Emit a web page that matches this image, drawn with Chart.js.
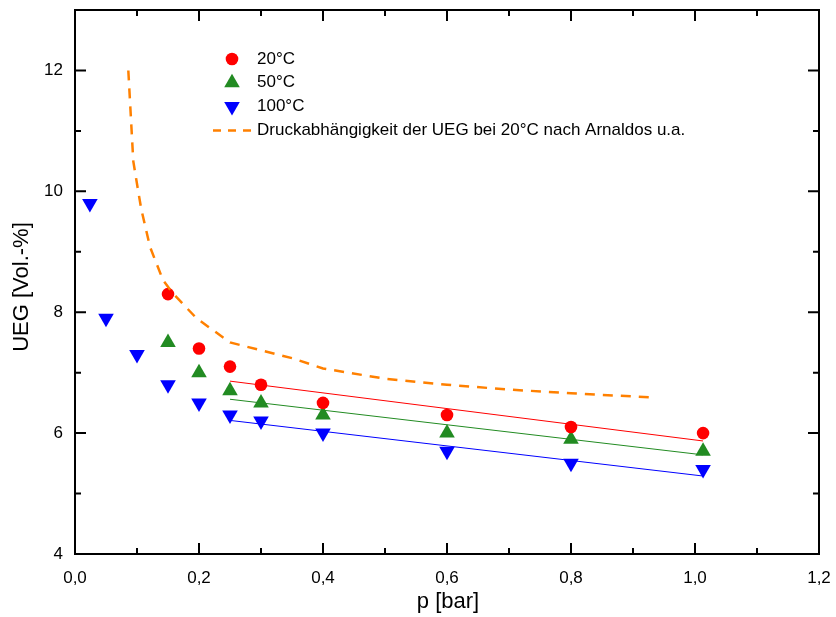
<!DOCTYPE html>
<html>
<head>
<meta charset="utf-8">
<script src="https://cdn.jsdelivr.net/npm/chart.js@4.4.0/dist/chart.umd.min.js"></script>
<style>
  body { margin: 0; background: #fff; }
  canvas { display: block; }
</style>
</head>
<body>
<canvas id="grafik" width="836" height="617"></canvas>
<script>
const druck = [0.15, 0.2, 0.25, 0.3, 0.4, 0.6, 0.8, 1.013];
const ueg20 = [8.3, 7.4, 7.1, 6.8, 6.5, 6.3, 6.1, 6.0];
const ueg50 = [7.5, 7.0, 6.7, 6.5, 6.3, 6.0, 5.9, 5.7];
const druck100 = [0.024, 0.05, 0.1, 0.15, 0.2, 0.25, 0.3, 0.4, 0.6, 0.8, 1.013];
const ueg100 = [9.8, 7.9, 7.3, 6.8, 6.5, 6.3, 6.2, 6.0, 5.7, 5.5, 5.4];

// --- Ausgleichsgeraden ---
const fitDruck = [0.25, 1.013];
const fit20 = [6.86, 5.87];
const fit50 = [6.56, 5.64];
const fit100 = [6.21, 5.29];

// --- Arnaldos-Kurve ---
const arnDruck = [0.086, 0.094, 0.102, 0.107, 0.121, 0.142, 0.158, 0.196, 0.25, 0.3, 0.35, 0.4, 0.5, 0.6, 0.7, 0.8, 0.93];
const arnUeg = [12.0, 10.5, 10.0, 9.7, 9.08, 8.53, 8.31, 7.9, 7.5, 7.37, 7.24, 7.07, 6.9, 6.8, 6.72, 6.66, 6.59];

// --- Achsen ---
const xTicks = [0, 0.2, 0.4, 0.6, 0.8, 1.0, 1.2];
const yTicks = [4, 6, 8, 10, 12];

const rot = '#ff0000';
const gruen = '#228b22';
const blau = '#0000ff';
const orange = '#ff8000';
const schrift = 'Liberation Sans, Arial, sans-serif';

const punkte = (xs, ys) => xs.map((x, i) => ({ x: x, y: ys[i] }));

// Rahmen + Innenstriche auf allen vier Seiten, Achsentitel
const rahmenPlugin = {
    id: 'rahmen',
    afterDatasetsDraw(chart) {
        const { ctx, chartArea: a, scales } = chart;
        ctx.save();
        ctx.strokeStyle = '#000';
        ctx.lineWidth = 2;
        ctx.strokeRect(a.left, a.top, a.right - a.left, a.bottom - a.top);
        ctx.beginPath();
        for (let i = 0; i <= 12; i++) {
            const px = scales.x.getPixelForValue(i / 10);
            const len = i % 2 === 0 ? 11 : 6;
            ctx.moveTo(px, a.bottom); ctx.lineTo(px, a.bottom - len);
            ctx.moveTo(px, a.top); ctx.lineTo(px, a.top + len);
        }
        for (let v = 4; v < 13; v++) {
            const py = scales.y.getPixelForValue(v);
            const len = v % 2 === 0 ? 11 : 6;
            ctx.moveTo(a.left, py); ctx.lineTo(a.left + len, py);
            ctx.moveTo(a.right, py); ctx.lineTo(a.right - len, py);
        }
        ctx.stroke();

        ctx.fillStyle = '#000';
        ctx.font = '22px ' + schrift;
        ctx.textAlign = 'center';
        ctx.textBaseline = 'middle';
        ctx.fillText('p [bar]', (a.left + a.right) / 2 + 1, 602);
        ctx.translate(22, 287);
        ctx.rotate(-Math.PI / 2);
        ctx.fillText('UEG [Vol.-%]', 0, 0);
        ctx.restore();
    }
};

// Legende im Diagramm
const legendePlugin = {
    id: 'legende',
    afterDraw(chart) {
        const ctx = chart.ctx;
        const eintraege = chart.data.datasets.filter(d => d.inLegende);
        ctx.save();
        ctx.font = '17px ' + schrift;
        ctx.textBaseline = 'middle';
        eintraege.forEach((d, i) => {
            const y = 59 + i * 23.8;
            if (d.showLine) {
                ctx.strokeStyle = d.borderColor;
                ctx.lineWidth = 2.5;
                ctx.setLineDash([8, 7]);
                ctx.beginPath();
                ctx.moveTo(213, y); ctx.lineTo(252, y);
                ctx.stroke();
                ctx.setLineDash([]);
            } else {
                ctx.fillStyle = d.backgroundColor;
                Chart.helpers.drawPoint(ctx, {
                    pointStyle: d.pointStyle,
                    radius: d.pointRadius,
                    rotation: d.pointRotation || 0,
                    borderWidth: 0
                }, 232, y);
            }
            ctx.fillStyle = '#000';
            ctx.fillText(d.label, 257, y);
        });
        ctx.restore();
    }
};

new Chart(document.getElementById('grafik'), {
    type: 'scatter',
    data: {
        datasets: [
            { label: '20°C', data: punkte(druck, ueg20), pointStyle: 'circle', pointRadius: 6.3,
              backgroundColor: rot, borderColor: rot, borderWidth: 0, order: 1, inLegende: true },
            { label: '50°C', data: punkte(druck, ueg50), pointStyle: 'triangle', pointRadius: 9,
              backgroundColor: gruen, borderColor: gruen, borderWidth: 0, order: 1, inLegende: true },
            { label: '100°C', data: punkte(druck100, ueg100), pointStyle: 'triangle', pointRotation: 180, pointRadius: 9,
              backgroundColor: blau, borderColor: blau, borderWidth: 0, order: 1, inLegende: true },
            { label: 'Druckabhängigkeit der UEG bei 20°C nach Arnaldos u.a.', data: punkte(arnDruck, arnUeg),
              showLine: true, borderColor: orange, borderWidth: 2.5, borderDash: [10, 8], pointRadius: 0,
              order: 0, inLegende: true },
            { label: 'fit20', data: punkte(fitDruck, fit20), showLine: true, borderColor: rot, borderWidth: 1, pointRadius: 0, order: 2 },
            { label: 'fit50', data: punkte(fitDruck, fit50), showLine: true, borderColor: gruen, borderWidth: 1, pointRadius: 0, order: 2 },
            { label: 'fit100', data: punkte(fitDruck, fit100), showLine: true, borderColor: blau, borderWidth: 1, pointRadius: 0, order: 2 }
        ]
    },
    options: {
        responsive: false,
        animation: false,
        devicePixelRatio: 1,
        layout: { padding: { top: 10, right: 17, left: 0, bottom: 0 } },
        plugins: {
            legend: { display: false },
            tooltip: { enabled: false }
        },
        scales: {
            x: {
                type: 'linear', min: 0, max: 1.2,
                afterBuildTicks: s => { s.ticks = xTicks.map(v => ({ value: v })); },
                afterFit: s => { s.height = 63; s.paddingLeft = 0; s.paddingRight = 0; },
                grid: { display: false, drawTicks: false },
                border: { display: false },
                ticks: {
                    color: '#000', padding: 14,
                    font: { family: schrift, size: 17 },
                    callback: v => v.toFixed(1).replace('.', ',')
                }
            },
            y: {
                type: 'linear', min: 4, max: 13,
                afterBuildTicks: s => { s.ticks = yTicks.map(v => ({ value: v })); },
                afterFit: s => { s.width = 75; s.paddingTop = 0; s.paddingBottom = 0; },
                grid: { display: false, drawTicks: false },
                border: { display: false },
                ticks: {
                    color: '#000', padding: 12,
                    font: { family: schrift, size: 17 },
                    callback: v => String(v)
                }
            }
        }
    },
    plugins: [rahmenPlugin, legendePlugin]
});
</script>
</body>
</html>
